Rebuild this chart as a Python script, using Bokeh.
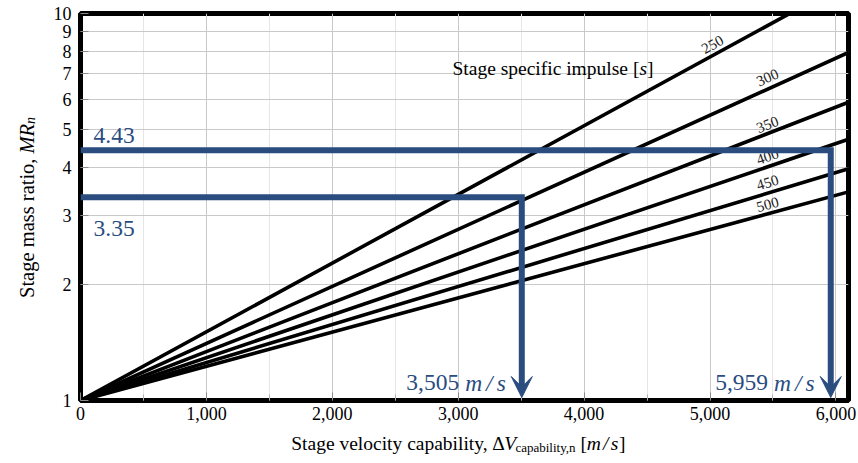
from bokeh.plotting import figure
from bokeh.layouts import row, column
from bokeh.models import Range1d, FixedTicker, NumeralTickFormatter, Label, Arrow, VeeHead
from bokeh.core.properties import value
from bokeh.embed import file_html
from bokeh.resources import INLINE

# ---------------- data ----------------
ISP = [250, 300, 350, 400, 450, 500]            # stage specific impulse [s]
DV_SPAN = [0, 6100]                              # delta-V range [m/s]
MR_START = 1.0                                   # mass ratio at dV = 0
MR_END = [12.1, 7.93, 5.9, 4.73, 3.97, 3.46]
CASE_DV = [3505, 5959]                           # highlighted cases [m/s]
CASE_MR = [3.35, 4.43]                           # highlighted mass ratios
XTICKS = [0, 1000, 2000, 3000, 4000, 5000, 6000]
XMINOR = [500, 1500, 2500, 3500, 4500, 5500]
YTICKS = [1, 2, 3, 4, 5, 6, 7, 8, 9, 10]

# ---------------- layout ----------------
W, H = 858, 463
LW = 45            # width of the left strip holding the y-axis title
BH = 33            # height of the bottom strip holding the x-axis title
MW, MH = W - LW, H - BH
ML, MR_, MT, MB = 35, 10, 13, 30
FONT = "Liberation Serif"
BLUE = "#2a4c7f"
FX0, FX1 = LW + ML, W - MR_
FY1, FY0 = MT, MH - MB
XMAX = DV_SPAN[1]
DEC = FY0 - FY1  # pixels per decade


def dx(px):
    return (px - FX0) / (FX1 - FX0) * XMAX


def dy(py):
    return 10 ** ((FY0 - py) / DEC)


REG = {' ': 250, ',': 250, '.': 250, '[': 333, ']': 333, '/': 278, 'S': 556, 'a': 444,
       'b': 500, 'c': 444, 'e': 444, 'f': 333, 'g': 500, 'i': 278, 'l': 278, 'm': 778,
       'n': 500, 'o': 500, 'p': 500, 'r': 333, 's': 389, 't': 278, 'u': 500, 'v': 500,
       'y': 500, 'Δ': 640}
for d in "0123456789":
    REG[d] = 500
ITA = {'V': 611, 'm': 722, '/': 278, 's': 389, 'M': 833, 'R': 611, 'n': 500}


def tw(txt, style, size):
    tab = ITA if style == "italic" else REG
    return sum(tab.get(c, 500) for c in txt) / 1000 * size


p = figure(width=MW, height=MH, x_range=Range1d(0, XMAX), y_range=Range1d(1, 10),
           y_axis_type="log", output_backend="svg", toolbar_location=None,
           min_border_left=ML, min_border_right=MR_, min_border_top=MT, min_border_bottom=MB)
p.background_fill_color = "white"
p.border_fill_color = "white"
p.outline_line_color = "black"
p.outline_line_width = 5

for ax in (p.xaxis[0], p.yaxis[0]):
    ax.axis_line_color = None
    ax.major_tick_in = 8
    ax.major_tick_out = 0
    ax.major_tick_line_color = "#8a8a8a"
    ax.minor_tick_in = 6
    ax.minor_tick_out = 0
    ax.minor_tick_line_color = "#b0b0b0"
    ax.major_label_text_font = FONT
    ax.major_label_text_font_size = "18px"
    ax.major_label_text_color = "black"

p.xaxis.ticker = FixedTicker(ticks=XTICKS, minor_ticks=XMINOR)
p.xaxis.formatter = NumeralTickFormatter(format="0,0")
p.xaxis.major_label_standoff = 6
p.yaxis.ticker = FixedTicker(ticks=YTICKS, minor_ticks=[])
p.yaxis.major_label_overrides = {t: str(t) for t in YTICKS}
p.yaxis.major_label_standoff = 9

p.xgrid.grid_line_color = "#c9c9c9"
p.xgrid.minor_grid_line_color = "#e6e6e6"
p.ygrid.grid_line_color = "#c9c9c9"

# curves
for mr in MR_END:
    p.line(DV_SPAN, [MR_START, mr], line_color="black", line_width=3.6, line_cap="round")

# curve labels (annotation anchors, page px)
LABEL_PX = [(712, 44), (767, 77), (767, 124), (767, 156), (767, 182), (767, 204)]
LABEL_ANG = [29, 24, 21, 19, 17, 15]
p.text(x=[dx(a) for a, b in LABEL_PX], y=[dy(b) for a, b in LABEL_PX],
       text=[str(i) for i in ISP], angle=LABEL_ANG, angle_units="deg",
       text_font=value(FONT), text_font_size="15px", text_align="center",
       text_baseline="middle", text_color="#222222")


def lab(fig, x, y, txt, style, size, color, angle=0, align="left"):
    fig.add_layout(Label(x=x, y=y, text=txt, text_font=FONT, text_font_style=style,
                         text_font_size=f"{size}px", text_align=align,
                         text_baseline="alphabetic", text_color=color,
                         angle=angle, angle_units="deg"))


def hseq(x0, base, segs, color="black"):
    cur = x0
    for txt, style, size, shift, gap in segs:
        cur += gap
        lab(p, dx(cur), dy(base + shift), txt, style, size, color)
        cur += tw(txt, style, size)


# inner title
hseq(452, 68, [("Stage specific impulse", "normal", 19.5, 0, 0),
               ("[", "normal", 19.5, 0, 5),
               ("s", "italic", 19.5, 0, 0),
               ("]", "normal", 19.5, 0, 0)])

# highlighted cases
for dv, mr in zip(CASE_DV, CASE_MR):
    p.line([0, dv, dv], [mr, mr, dy(FY0 - 12)], line_color=BLUE, line_width=6,
           line_join="miter")
    p.add_layout(Arrow(end=VeeHead(size=21, fill_color=BLUE, line_color=BLUE, line_width=1),
                       x_start=dv, y_start=dy(FY0 - 30), x_end=dv, y_end=dy(FY0 - 3),
                       line_color=None))

SZ = 23.5
lab_3, lab_4 = CASE_MR
lab(p, dx(93), lab_4 * 10 ** (15 / DEC), f"{lab_4:.2f}", "normal", SZ, BLUE)
lab(p, dx(93), lab_3 * 10 ** (-31 / DEC), f"{lab_3:.2f}", "normal", SZ, BLUE)

for dv in CASE_DV:
    apx = FX0 + dv / XMAX * (FX1 - FX0)
    # "m / s" left-aligned right of the number, the number right-aligned before it
    mstart = apx - 16 - (tw("m/s", "italic", SZ) + 8)
    lab(p, dx(mstart - 6), dy(382), f"{dv:,}", "normal", SZ, BLUE, align="right")
    cur = mstart
    for txt, gap in [("m", 0), ("/", 4), ("s", 4)]:
        cur += gap
        lab(p, dx(cur), dy(382), txt, "italic", SZ, BLUE)
        cur += tw(txt, "italic", SZ)


# ---------------- title strips (pixel coordinates) ----------------
def strip(w, h):
    f = figure(width=w, height=h, x_range=Range1d(0, w), y_range=Range1d(0, h),
               output_backend="svg", toolbar_location=None,
               x_axis_location=None, y_axis_location=None,
               min_border=0, min_border_left=0, min_border_right=0,
               min_border_top=0, min_border_bottom=0)
    f.grid.visible = False
    f.outline_line_color = None
    f.background_fill_color = "white"
    f.border_fill_color = "white"
    return f


bot = strip(MW, BH)
XBASE = 443
PIVOT = 476 - LW   # end of the plain-text part of the x title
lab(bot, PIVOT, H - XBASE, "Stage velocity capability,", "normal", 19.5, "black", align="right")
cur = PIVOT
for txt, style, size, shift, gap in [("Δ", "normal", 19.5, 0, 5),
                                     ("V", "italic", 19.5, 0, 0),
                                     ("capability,n", "normal", 13, 4, 0),
                                     ("[", "normal", 19.5, 0, 8),
                                     ("m", "italic", 19.5, 0, 0),
                                     ("/", "italic", 19.5, 0, 3),
                                     ("s", "italic", 19.5, 0, 3),
                                     ("]", "normal", 19.5, 0, 1)]:
    cur += gap
    lab(bot, cur, H - (XBASE + shift), txt, style, size, "black")
    cur += tw(txt, style, size)

left = strip(LW, H)
YBASE = 26
YPIVOT = H - 158   # where the italic symbol starts (bottom-up)
lab(left, YBASE, YPIVOT, "Stage mass ratio,", "normal", 20.5, "black", angle=90, align="right")
cur = YPIVOT
for txt, style, size, shift, gap in [("MR", "italic", 20.5, 0, 5),
                                     ("n", "italic", 14, 4, 0)]:
    cur += gap
    lab(left, YBASE + shift, cur, txt, style, size, "black", angle=90)
    cur += tw(txt, style, size)

layout = row(left, column(p, bot, spacing=0), spacing=0)
open("out.html", "w").write(file_html(layout, INLINE))
